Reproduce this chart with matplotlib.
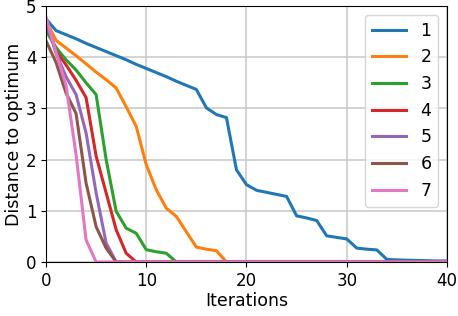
import numpy as np
import matplotlib
matplotlib.use("Agg")
import matplotlib.pyplot as plt

n_iter = 41
iters = np.arange(n_iter)

# distance to optimum per iteration (zeros after convergence)
d1 = [4.75, 4.52, 4.44, 4.36, 4.27, 4.19, 4.11, 4.03, 3.95, 3.86, 3.78,
      3.70, 3.62, 3.53, 3.45, 3.37, 3.01, 2.88, 2.82, 1.80, 1.51, 1.40,
      1.36, 1.32, 1.28, 0.90, 0.86, 0.81, 0.51, 0.48, 0.45, 0.27, 0.25,
      0.235, 0.05, 0.04, 0.035, 0.03, 0.025, 0.02, 0.02]
d2 = [4.71, 4.33, 4.18, 4.03, 3.87, 3.71, 3.56, 3.40, 3.03, 2.65, 1.90,
      1.41, 1.05, 0.89, 0.59, 0.29, 0.25, 0.22, 0.0]
d3 = [4.52, 4.19, 3.95, 3.75, 3.50, 3.27, 2.00, 0.99, 0.66, 0.56, 0.24,
      0.20, 0.17, 0.0]
d4 = [4.70, 4.12, 3.85, 3.55, 3.21, 2.07, 1.35, 0.63, 0.17, 0.0]
d5 = [4.70, 4.08, 3.62, 3.27, 2.52, 1.35, 0.37, 0.0]
d6 = [4.32, 3.90, 3.30, 2.90, 1.54, 0.69, 0.27, 0.0]
d7 = [4.78, 4.10, 3.45, 2.10, 0.43, 0.0]
labels = ["1", "2", "3", "4", "5", "6", "7"]

series = [d1, d2, d3, d4, d5, d6, d7]

fig = plt.figure(figsize=(4.58, 3.16), dpi=100)
ax = fig.add_axes([0.1004, 0.171, 0.8756, 0.810])

for s, lab in zip(series, labels):
    y = np.zeros(n_iter)
    y[:len(s)] = s
    ax.plot(iters, y, lw=2.2, label=lab)

ax.set_xlim(0, 40)
ax.set_ylim(0, 5)
ax.set_xticks([0, 10, 20, 30, 40])
ax.set_yticks([0, 1, 2, 3, 4, 5])
ax.grid(True, color="#c8c8c8", lw=1.1)
ax.set_axisbelow(True)
ax.tick_params(labelsize=12)
ax.set_xlabel("Iterations", fontsize=12.5, labelpad=2)
ax.set_ylabel("Distance to optimum", fontsize=12.5, labelpad=2)
ax.legend(loc="upper right", fontsize=12.5)

fig.savefig("out.png", dpi=100)
